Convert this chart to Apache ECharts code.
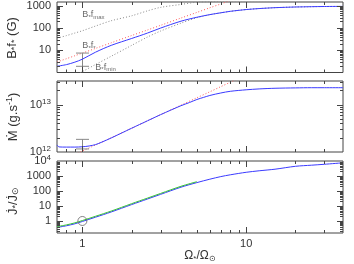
<!DOCTYPE html>
<html><head><meta charset="utf-8">
<script src="https://cdn.jsdelivr.net/npm/echarts@6/dist/echarts.min.js"></script>
<style>html,body{margin:0;padding:0;background:#fff}#c{width:354px;height:264px}</style>
</head><body><div id="c"></div>
<script>
// ---- data ----
const omega = [0.7,0.8,0.9,1,1.2,1.5,2,2.5,3,4,5,6,7,8,10,12,15,20,25,30,39];
const bfStar = [1.91,2.27,2.93,3.98,8.15,16.7,34.1,60,100,205,308,406,489,570,685,759,832,893,921,940,950];
const bfMax = [35,46,60,76,123,215,359,600,858,1166,1475,1560,1620,1660,1700,1720,1740,1760,1770,1780,1800];
const bfMinX = [0.9,1,1.2,1.5,2,2.5,3,4,5,6,7,8,10,12,15,20,25,30,39];
const bfMin = [0.75,1.1,2.27,5.4,16.7,39.8,73.6,167,293,400,489,570,685,759,832,893,921,940,950];
const bfRedX = [0.7,0.8,0.9,1,1.2,1.5,2,2.5,3,4,5,6,7,8,10];
const bfRed = [2.96,4.19,5.7,7.5,12.1,21.8,46.4,82.4,133,284,509,824,1228,1740,3090];
const bfErr = [1, 1.9, 7.5];
const annX = [1.0, 1.0, 1.2];
const annY = [400, 16.7, 1.72];
const annText = ['B{s|*}f{s|max}', 'B{s|*}f{s|*}', 'B{s|*}f{s|min}'];

const mdotX = [0.7,0.72,0.8,0.9,1,1.1,1.2,1.3,1.5,2,2.5,3,4,4.5,5,5.5,6,7,8,10,12,15,20,25,30,39];
const mdot = [1.41e12,1.28e12,1.27e12,1.27e12,1.29e12,1.34e12,1.43e12,1.59e12,1.98e12,3.18e12,4.57e12,6.14e12,9.5e12,1.107e13,1.285e13,1.426e13,1.563e13,1.764e13,1.915e13,2.06e13,2.15e13,2.22e13,2.26e13,2.28e13,2.28e13,2.28e13];
const mdotRedX = [0.9,1,1.2,1.5,2,2.5,3,4,5,6,7,8,10];
const mdotRed = [8.8e11,1.045e12,1.4e12,2.0e12,3.18e12,4.57e12,6.15e12,9.75e12,1.40e13,1.87e13,2.40e13,2.98e13,4.27e13];
const mdotErr = [1, 1.16e12, 1.85e12];

const jdot = [0.369,0.479,0.65,0.927,1.77,3.98,12.4,29.3,59.3,179,363,612,912,1202,1766,2223,2840,4433,5250,6030,7590];
const jdotGreenX = [0.7,0.8,0.9,1,1.2,1.5,2,2.5,3,4,5];
const jdotGreen = [0.42,0.55,0.75,1.07,2.04,4.58,14.3,33.7,68.2,206,417];
const sunPoint = [1, 1];

// titles
const yTitles = ['B{s|*}f{s|*} (G)', 'Ṁ (g.s{sup|-1})', 'J̇{s|*}/J̇{s|⊙}'];
const xTitle = 'Ω{s|*}/Ω{s|⊙}';

// axis ranges and ticks
const X_RANGE = [0.7, 39];
const Y_TOP = [1, 1500];
const Y_MID = [1e12, 3.16e13];
const Y_BOT = [0.158, 1e4];
const mult = [2,3,4,5,6,7,8,9];
const xMajor = [1, 10];
const xMinor = [0.8, 0.9, 2,3,4,5,6,7,8,9, 20, 30];
const yMajorTop = [10, 100, 1000];
const yMinorTop = [].concat(mult, mult.map(m=>m*10), mult.map(m=>m*100));
const yMajorMid = [1e13];
const yMinorMid = [].concat(mult.map(m=>m*1e12), [2e13, 3e13]);
const yMajorBot = [1, 10, 100, 1000];
const yMinorBot = [].concat(mult.map(m=>m/10), mult, mult.map(m=>m*10), mult.map(m=>m*100), mult.map(m=>m*1000));

// ---- helpers ----
const FONT = 'Liberation Sans';
const TXT = '#333';
const AX = '#444';
const zip = (xs, ys) => xs.map((x, i) => [x, ys[i]]);
const rich = {
  s: { fontSize: 8, fontFamily: FONT, color: TXT, padding: [6, 0, 0, 0] },
  sup: { fontSize: 8, fontFamily: FONT, color: TXT, padding: [0, 0, 6, 0] }
};
const richT = {
  s: { fontSize: 9, fontFamily: FONT, fill: TXT, color: TXT, padding: [6, 0, 0, 0] },
  sup: { fontSize: 9, fontFamily: FONT, fill: TXT, color: TXT, padding: [0, 0, 7, 0] }
};

function tickItems(yMin, xMajorV, xMinorV, yMajorV, yMinorV) {
  const out = [];
  xMajorV.forEach(v => out.push([v, yMin, 1]));
  xMinorV.forEach(v => out.push([v, yMin, 0]));
  yMajorV.forEach(v => out.push([X_RANGE[0], v, 3]));
  yMinorV.forEach(v => out.push([X_RANGE[0], v, 2]));
  return out;
}
function tickSeries(gi, items) {
  return {
    type: 'custom', xAxisIndex: gi, yAxisIndex: gi, silent: true, z: 6,
    encode: { x: 0, y: 1 }, data: items,
    renderItem: function (params, api) {
      const cs = params.coordSys;
      const k = api.value(2);
      const p = api.coord([api.value(0), api.value(1)]);
      const len = (k === 1 || k === 3) ? 6 : 3;
      const style = { stroke: AX, lineWidth: 1 };
      if (k < 2) {
        const x = Math.round(p[0]) + 0.5;
        const b = cs.y + cs.height, t = cs.y;
        return { type: 'group', children: [
          { type: 'line', shape: { x1: x, y1: b, x2: x, y2: b - len }, style: style },
          { type: 'line', shape: { x1: x, y1: t, x2: x, y2: t + len }, style: style }
        ]};
      } else {
        const y = Math.round(p[1]) + 0.5;
        const l = cs.x, r = cs.x + cs.width;
        return { type: 'group', children: [
          { type: 'line', shape: { x1: l, y1: y, x2: l + len, y2: y }, style: style },
          { type: 'line', shape: { x1: r, y1: y, x2: r - len, y2: y }, style: style }
        ]};
      }
    }
  };
}
function errSeries(gi, e) {
  return {
    type: 'custom', xAxisIndex: gi, yAxisIndex: gi, silent: true, z: 3,
    encode: { x: 0, y: [1, 2] }, data: [e],
    renderItem: function (params, api) {
      const lo = api.coord([api.value(0), api.value(1)]);
      const hi = api.coord([api.value(0), api.value(2)]);
      const x = Math.round(lo[0]) + 0.5;
      const style = { stroke: '#888', lineWidth: 1 };
      return { type: 'group', children: [
        { type: 'line', shape: { x1: x, y1: lo[1], x2: x, y2: hi[1] }, style: style },
        { type: 'line', shape: { x1: x - 6.5, y1: lo[1], x2: x + 6.5, y2: lo[1] }, style: style },
        { type: 'line', shape: { x1: x - 6.5, y1: hi[1], x2: x + 6.5, y2: hi[1] }, style: style }
      ]};
    }
  };
}
function line(gi, data, color, type, z) {
  return { type: 'line', xAxisIndex: gi, yAxisIndex: gi, data: data, showSymbol: false, symbol: 'none',
    smooth: 0.3, clip: true, z: z || 2, silent: true,
    lineStyle: { color: color, width: 1, type: type || 'solid' } };
}
function xAxis(gi, showLabels) {
  const a = { type: 'log', logBase: 10, gridIndex: gi, min: X_RANGE[0], max: X_RANGE[1],
    axisLine: { show: false }, axisTick: { show: false }, splitLine: { show: false }, minorTick: { show: false },
    axisLabel: { show: showLabels, showMinLabel: false, showMaxLabel: false, margin: 5,
      fontFamily: FONT, fontSize: 11, color: TXT,
      formatter: v => String(Math.round(v)) } };
  if (showLabels) {
    a.name = xTitle;
    a.nameLocation = 'middle';
    a.nameGap = 15;
    a.nameTextStyle = { fontFamily: FONT, fontSize: 12, color: TXT, rich: rich };
  }
  return a;
}
function yAxis(gi, range, fmt, showMin, showMax) {
  return { type: 'log', logBase: 10, gridIndex: gi, min: range[0], max: range[1],
    axisLine: { show: false }, axisTick: { show: false }, splitLine: { show: false }, minorTick: { show: false },
    axisLabel: { showMinLabel: showMin, showMaxLabel: showMax, margin: 6,
      fontFamily: FONT, fontSize: 11, color: TXT, formatter: fmt, rich: rich } };
}
const plainFmt = v => String(Math.round(v));
const expFmt = v => '10{sup|' + Math.round(Math.log10(v)) + '}';
const botFmt = v => v >= 9999 ? expFmt(v) : plainFmt(v);

const gridBase = { left: 57, right: 11, show: true, borderColor: AX, borderWidth: 1,
  backgroundColor: 'transparent', containLabel: false, outerBoundsMode: 'none' };

const titleCenters = [[12, 38], [13, 117], [13, 201]];
const option = {
  animation: false,
  graphic: yTitles.map((t, i) => ({
    type: 'text', x: titleCenters[i][0], y: titleCenters[i][1], rotation: Math.PI / 2, silent: true,
    style: { text: t, fontFamily: FONT, fontSize: 13, fill: TXT, align: 'center', verticalAlign: 'middle', rich: richT }
  })),
  grid: [
    Object.assign({ top: 2, height: 70.5 }, gridBase),
    Object.assign({ top: 81, height: 71 }, gridBase),
    Object.assign({ top: 161, height: 72 }, gridBase)
  ],
  xAxis: [xAxis(0, false), xAxis(1, false), xAxis(2, true)],
  yAxis: [
    yAxis(0, Y_TOP, plainFmt, false, false),
    yAxis(1, Y_MID, expFmt, true, false),
    yAxis(2, Y_BOT, botFmt, false, true)
  ],
  series: [
    line(0, zip(omega, bfMax), '#888', [1, 2]),
    line(0, zip(bfMinX, bfMin), '#888', [1, 2]),
    line(0, zip(bfRedX, bfRed), '#ff5a5a', [1, 2]),
    line(0, zip(omega, bfStar), '#3a3aff', 'solid', 4),
    errSeries(0, bfErr),
    { type: 'scatter', xAxisIndex: 0, yAxisIndex: 0, symbolSize: 0, silent: true, z: 5,
      data: annX.map((x, i) => ({ value: [x, annY[i]], txt: annText[i] })),
      label: { show: true, position: 'right', distance: 0, fontFamily: FONT, fontSize: 9, color: '#444',
        formatter: p => p.data.txt,
        rich: { s: { fontSize: 6, fontFamily: FONT, color: '#444', padding: [5, 0, 0, 0] } } } },
    tickSeries(0, tickItems(Y_TOP[0], xMajor, xMinor, yMajorTop, yMinorTop)),

    line(1, zip(mdotRedX, mdotRed), '#ff5a5a', [1, 2]),
    line(1, zip(mdotX, mdot), '#3a3aff', 'solid', 4),
    errSeries(1, mdotErr),
    tickSeries(1, tickItems(Y_MID[0], xMajor, xMinor, yMajorMid, yMinorMid)),

    line(2, zip(omega, jdot), '#3a3aff', 'solid', 3),
    line(2, zip(jdotGreenX, jdotGreen), '#35c035', 'solid', 4),
    { type: 'scatter', xAxisIndex: 2, yAxisIndex: 2, symbol: 'circle', symbolSize: 9, silent: true, z: 5,
      data: [sunPoint], itemStyle: { color: 'transparent', borderColor: '#666', borderWidth: 1 } },
    tickSeries(2, tickItems(Y_BOT[0], xMajor, xMinor, yMajorBot, yMinorBot))
  ]
};
const chart = echarts.init(document.getElementById('c'), null, { renderer: 'canvas' });
chart.setOption(option);
</script></body></html>
